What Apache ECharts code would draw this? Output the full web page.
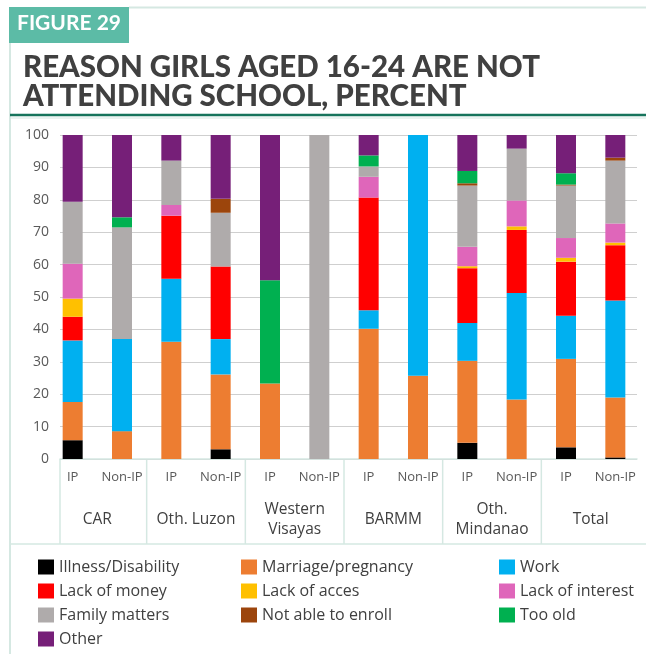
<!DOCTYPE html>
<html>
<head>
<meta charset="utf-8">
<script src="https://cdn.jsdelivr.net/npm/echarts@6/dist/echarts.min.js"></script>
<style>
  html, body { margin: 0; padding: 0; background: #ffffff; }
  #chart { width: 646px; height: 654px; }
</style>
</head>
<body>
<div id="chart"></div>
<script>
// Bars: IP / Non-IP within each region
const subgroups = ['IP', 'Non-IP', 'IP', 'Non-IP', 'IP', 'Non-IP', 'IP', 'Non-IP', 'IP', 'Non-IP', 'IP', 'Non-IP'];
const regions = ['CAR', 'Oth. Luzon', 'Western\nVisayas', 'BARMM', 'Oth.\nMindanao', 'Total'];
const yTicks = [0, 10, 20, 30, 40, 50, 60, 70, 80, 90, 100];

// Share of girls (%) by main reason, one value per bar
const illness  = [5.8, 0, 0, 3.0, 0, 0, 0, 0, 5.0, 0, 3.6, 0.5];
const marriage = [11.8, 8.6, 36.2, 23.1, 23.3, 0, 40.2, 25.7, 25.3, 18.4, 27.3, 18.5];
const work     = [19.0, 28.4, 19.4, 10.9, 0, 0, 5.7, 74.3, 11.7, 32.8, 13.3, 29.9];
const money    = [7.3, 0, 19.5, 22.4, 0, 0, 34.8, 0, 16.9, 19.5, 16.7, 17.1];
const access   = [5.6, 0, 0, 0, 0, 0, 0, 0, 0.6, 1.1, 1.2, 0.8];
const interest = [10.8, 0, 3.3, 0, 0, 0, 6.4, 0, 6.0, 8.0, 6.1, 5.9];
const family   = [19.1, 34.5, 13.7, 16.6, 0, 100, 3.2, 0, 18.9, 16.0, 16.2, 19.4];
const notAble  = [0, 0, 0, 4.3, 0, 0, 0, 0, 0.7, 0, 0.3, 0.9];
const tooOld   = [0, 3.1, 0, 0, 31.9, 0, 3.4, 0, 3.8, 0, 3.5, 0];
const other    = [20.6, 25.4, 7.9, 19.7, 44.8, 0, 6.3, 0, 11.1, 4.2, 11.8, 7.0];

const seriesDefs = [
  { name: 'Illness/Disability', data: illness,  color: '#000000' },
  { name: 'Marriage/pregnancy', data: marriage, color: '#ED7D31' },
  { name: 'Work',               data: work,     color: '#00B0F0' },
  { name: 'Lack of money',      data: money,    color: '#FF0000' },
  { name: 'Lack of acces',      data: access,   color: '#FFC000' },
  { name: 'Lack of interest',   data: interest, color: '#DF66BA' },
  { name: 'Family matters',     data: family,   color: '#AFABAB' },
  { name: 'Not able to enroll', data: notAble,  color: '#9C450C' },
  { name: 'Too old',            data: tooOld,   color: '#00B050' },
  { name: 'Other',              data: other,    color: '#761F78' }
];

const HEAD_FONT = 'Lato, "Open Sans", sans-serif';
const FONT = '"Open Sans", Lato, sans-serif';
const frameColor = '#d5e8e2';
const PLOT_TOP = 135, PLOT_BOTTOM = 195;
const AXIS_Y = 654 - PLOT_BOTTOM;

const legendBase = {
  orient: 'vertical',
  top: 559,
  padding: 0,
  itemWidth: 16,
  itemHeight: 15,
  itemGap: 8,
  icon: 'rect',
  selectedMode: false,
  textStyle: { fontFamily: FONT, fontSize: 16, color: '#404040' }
};

const chart = echarts.init(document.getElementById('chart'), null, { renderer: 'canvas' });

const staticGraphics = [
  // outer frame
  { type: 'line', shape: { x1: 10, y1: 43, x2: 10, y2: 654 }, style: { stroke: frameColor, lineWidth: 2 }, silent: true },
  { type: 'line', shape: { x1: 129, y1: 7.5, x2: 646, y2: 7.5 }, style: { stroke: frameColor, lineWidth: 2 }, silent: true },
  { type: 'line', shape: { x1: 10, y1: 544, x2: 646, y2: 544 }, style: { stroke: frameColor, lineWidth: 1.5 }, silent: true },
  // figure badge
  { type: 'rect', shape: { x: 9, y: 7, width: 120, height: 36 }, style: { fill: '#5CBBA6' }, silent: true },
  { type: 'text', left: 17, top: 13, style: { text: 'FIGURE 29', fill: '#ffffff', font: 'bold 21px ' + HEAD_FONT }, silent: true },
  // heading
  { type: 'text', left: 23, top: 52, style: { text: 'REASON GIRLS AGED 16-24 ARE NOT', fill: '#404040', font: '900 29.5px ' + HEAD_FONT }, silent: true },
  { type: 'text', left: 23, top: 81, style: { text: 'ATTENDING SCHOOL, PERCENT', fill: '#404040', font: '900 29.5px ' + HEAD_FONT }, silent: true },
  // rule under heading
  { type: 'line', shape: { x1: 10, y1: 115, x2: 646, y2: 115 }, style: { stroke: '#17745C', lineWidth: 2.5 }, silent: true },
  { type: 'line', shape: { x1: 10, y1: 118, x2: 646, y2: 118 }, style: { stroke: frameColor, lineWidth: 1 }, silent: true }
];

chart.setOption({
  animation: false,
  backgroundColor: '#ffffff',
  grid: [
    // bars
    { left: 48, right: 6, top: PLOT_TOP, bottom: PLOT_BOTTOM },
    // value scale, gridlines and baseline
    { left: 60, right: 9, top: PLOT_TOP, bottom: PLOT_BOTTOM }
  ],
  legend: [
    Object.assign({}, legendBase, { left: 38,  data: ['Illness/Disability', 'Lack of money', 'Family matters', 'Other'] }),
    Object.assign({}, legendBase, { left: 241, data: ['Marriage/pregnancy', 'Lack of acces', 'Not able to enroll'] }),
    Object.assign({}, legendBase, { left: 499, data: ['Work', 'Lack of interest', 'Too old'] })
  ],
  xAxis: [
    {
      gridIndex: 0,
      type: 'category',
      data: subgroups,
      axisLine: { show: false },
      axisTick: { show: false },
      axisLabel: { interval: 0, margin: 12, fontFamily: FONT, fontSize: 13, color: '#595959' }
    },
    {
      gridIndex: 0,
      type: 'category',
      data: regions,
      position: 'bottom',
      axisLine: { show: false },
      axisTick: { show: false },
      axisLabel: {
        interval: 0, margin: 61, verticalAlign: 'middle', lineHeight: 20,
        fontFamily: FONT, fontSize: 15.5, color: '#404040', align: 'center'
      }
    },
    {
      gridIndex: 1,
      type: 'category',
      data: subgroups,
      axisLine: { show: true, lineStyle: { color: frameColor, width: 1.5 } },
      axisTick: { show: false },
      axisLabel: { show: false }
    }
  ],
  yAxis: [
    { gridIndex: 0, type: 'value', min: 0, max: 100, show: false, splitLine: { show: false } },
    {
      gridIndex: 1,
      type: 'value',
      min: yTicks[0],
      max: yTicks[yTicks.length - 1],
      interval: 10,
      axisLine: { show: false },
      axisTick: { show: false },
      axisLabel: { margin: 11, fontFamily: FONT, fontSize: 14, color: '#595959' },
      splitLine: { lineStyle: { color: '#cfcfcf', width: 1.2 } }
    }
  ],
  series: seriesDefs.map(s => ({
    name: s.name,
    type: 'bar',
    stack: 'total',
    xAxisIndex: 0,
    yAxisIndex: 0,
    barWidth: 20,
    data: s.data,
    itemStyle: { color: s.color },
    emphasis: { disabled: true }
  })),
  graphic: staticGraphics
});

// Region separators: one at the left edge of the plot, then one between each pair of bars
const sepX = [60];
for (let k = 1; k < regions.length; k++) {
  const a = chart.convertToPixel({ xAxisIndex: 0 }, 2 * k - 1);
  const b = chart.convertToPixel({ xAxisIndex: 0 }, 2 * k);
  sepX.push((a + b) / 2);
}
chart.setOption({
  graphic: staticGraphics.concat(sepX.map(x => ({
    type: 'line',
    shape: { x1: x, y1: AXIS_Y, x2: x, y2: 544 },
    style: { stroke: frameColor, lineWidth: 1.5 },
    silent: true
  })))
});
</script>
</body>
</html>
